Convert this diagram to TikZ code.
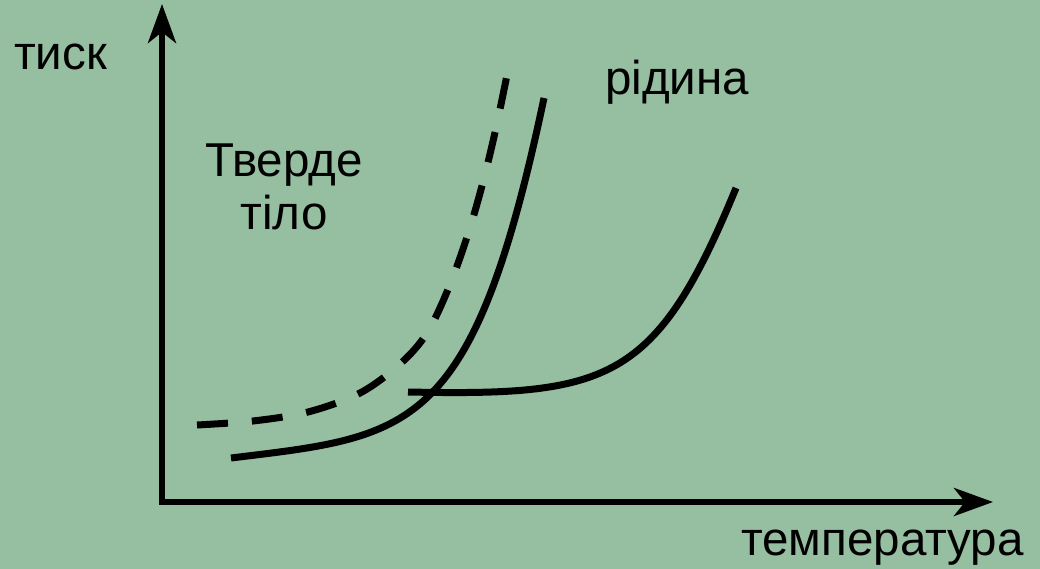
\documentclass[tikz,border=0pt]{standalone}
\usepackage{fontspec}
\setmainfont{Liberation Sans}
\usetikzlibrary{arrows.meta}
\definecolor{bggreen}{RGB}{150,190,160}
\tikzset{
  axistip/.style={line width=6pt, {Stealth[length=39pt, width=28pt, inset=11pt]}-{Stealth[length=39pt, width=28pt, inset=11pt]}},
  curveline/.style={line width=7pt},
  dashcurve/.style={curveline, dash pattern=on 31pt off 24pt},
  lbl/.style={inner sep=0pt, font=\fontsize{47.5}{53}\selectfont}
}
\begin{document}
\begin{tikzpicture}[x=1pt, y=-1pt]
\fill[bggreen] (0,0) rectangle (1040,569);
\useasboundingbox (0,0) rectangle (1040,569);
% axes
\coordinate (O) at (162,502);
\coordinate (ytip) at (162,4);
\coordinate (xtip) at (993,502);
\draw[axistip] (ytip) -- (O) -- (xtip);
% dashed curve
\draw[dashcurve] plot[smooth, tension=0.55] coordinates {(197,425) (253,421) (308,412) (360,393) (400,364) (427,333) (449,287) (468,234) (483,182) (496,128) (508,70)};
% solid curve 1
\draw[curveline] (231,458) .. controls (411,436) and (472.5,436) .. (544,98);
% solid curve 2
\draw[curveline] (408,392) .. controls (608,396) and (656,383) .. (736,188);
% labels
\node[lbl, anchor=base west] (p) at (14,70) {тиск};
\node[lbl, anchor=base west] (t) at (741,555) {температура};
\node[lbl, anchor=base west] (l) at (605,95) {рідина};
\node[lbl, anchor=north, align=center] (s) at (284,144) {Тверде\\тіло};
\end{tikzpicture}
\end{document}
